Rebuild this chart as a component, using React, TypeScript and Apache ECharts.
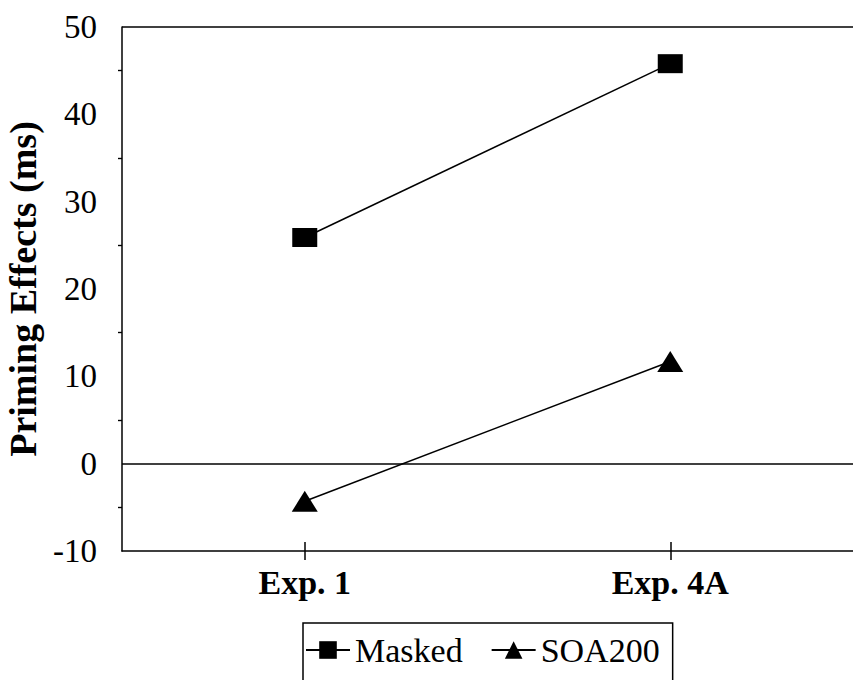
import React, { useEffect, useRef } from "react";
import * as echarts from "echarts";

const categories = ["Exp. 1", "Exp. 4A"];
const maskedValues = [25.9, 45.8];
const soa200Values = [-4.3, 11.7];
const yMin = -10;
const yMax = 50;
const yInterval = 10;
const referenceLines = [50, 0];

const FONT = "Liberation Serif";

export default function App() {
  const ref = useRef<HTMLDivElement>(null);
  useEffect(() => {
    if (!ref.current) return;
    const chart = echarts.init(ref.current, undefined, { renderer: "svg" });
    chart.setOption({
      animation: false,
      backgroundColor: "#fff",
      textStyle: { fontFamily: FONT },
      grid: {
        left: 122,
        right: 0,
        top: 27,
        bottom: 129,
        containLabel: false,
        outerBoundsMode: "none",
      },
      legend: {
        left: 303,
        top: 623,
        orient: "horizontal",
        borderColor: "#000",
        borderWidth: 1.5,
        borderRadius: 0,
        padding: [10, 13, 30, 2],
        itemGap: 28,
        itemWidth: 44,
        itemHeight: 22,
        textStyle: { fontFamily: FONT, fontSize: 34, color: "#000" },
        data: ["Masked", "SOA200"],
      },
      xAxis: [
        {
          type: "category",
          data: categories,
          boundaryGap: true,
          axisLine: { show: true, onZero: false, lineStyle: { color: "#000", width: 1.5 } },
          axisTick: { show: true, alignWithLabel: true, length: 9, lineStyle: { color: "#000", width: 1.5 } },
          axisLabel: {
            fontFamily: FONT,
            fontSize: 34,
            fontWeight: "bold",
            color: "#000",
            margin: 14,
          },
          splitLine: { show: false },
        },
        {
          type: "category",
          data: categories,
          position: "bottom",
          boundaryGap: true,
          axisLine: { show: false, onZero: false },
          axisTick: { show: true, inside: true, alignWithLabel: true, length: 9, lineStyle: { color: "#000", width: 1.5 } },
          axisLabel: { show: false },
          splitLine: { show: false },
        },
      ],
      yAxis: [
        {
          type: "value",
          min: yMin,
          max: yMax,
          interval: yInterval,
          name: "Priming Effects (ms)",
          nameLocation: "middle",
          nameGap: 78,
          nameTextStyle: {
            fontFamily: FONT,
            fontSize: 38,
            fontWeight: "bold",
            color: "#000",
          },
          axisLine: { show: true, onZero: false, lineStyle: { color: "#000", width: 1.5 } },
          axisTick: { show: false },
          minorTick: { show: true, splitNumber: 2, length: 4, lineStyle: { color: "#000", width: 1.2 } },
          axisLabel: { fontFamily: FONT, fontSize: 33, color: "#000", margin: 25 },
          splitLine: { show: false },
        },
        {
          type: "value",
          min: yMin,
          max: yMax,
          interval: yInterval,
          position: "left",
          offset: 0,
          axisLine: { show: false, onZero: false },
          axisTick: { show: false },
          minorTick: { show: true, splitNumber: 2, length: 4, lineStyle: { color: "#000", width: 1.2 } },
          axisLabel: { show: false, inside: true },
          splitLine: { show: false },
        },
      ],
      series: [
        {
          name: "Masked",
          type: "line",
          data: maskedValues,
          symbol: "rect",
          symbolSize: [25, 19],
          itemStyle: { color: "#000" },
          lineStyle: { color: "#000", width: 1.5 },
          markLine: {
            silent: true,
            symbol: ["none", "none"],
            label: { show: false },
            lineStyle: { color: "#000", width: 1.5, type: "solid" },
            data: referenceLines.map((v) => ({ yAxis: v })),
          },
        },
        {
          name: "SOA200",
          type: "line",
          data: soa200Values,
          symbol: "triangle",
          symbolSize: [26, 21],
          itemStyle: { color: "#000" },
          lineStyle: { color: "#000", width: 1.5 },
        },
      ],
    });
    return () => chart.dispose();
  }, []);
  return (
    <div
      ref={ref}
      style={{ position: "fixed", left: 0, top: 0, width: 853, height: 680, background: "#fff" }}
    />
  );
}
